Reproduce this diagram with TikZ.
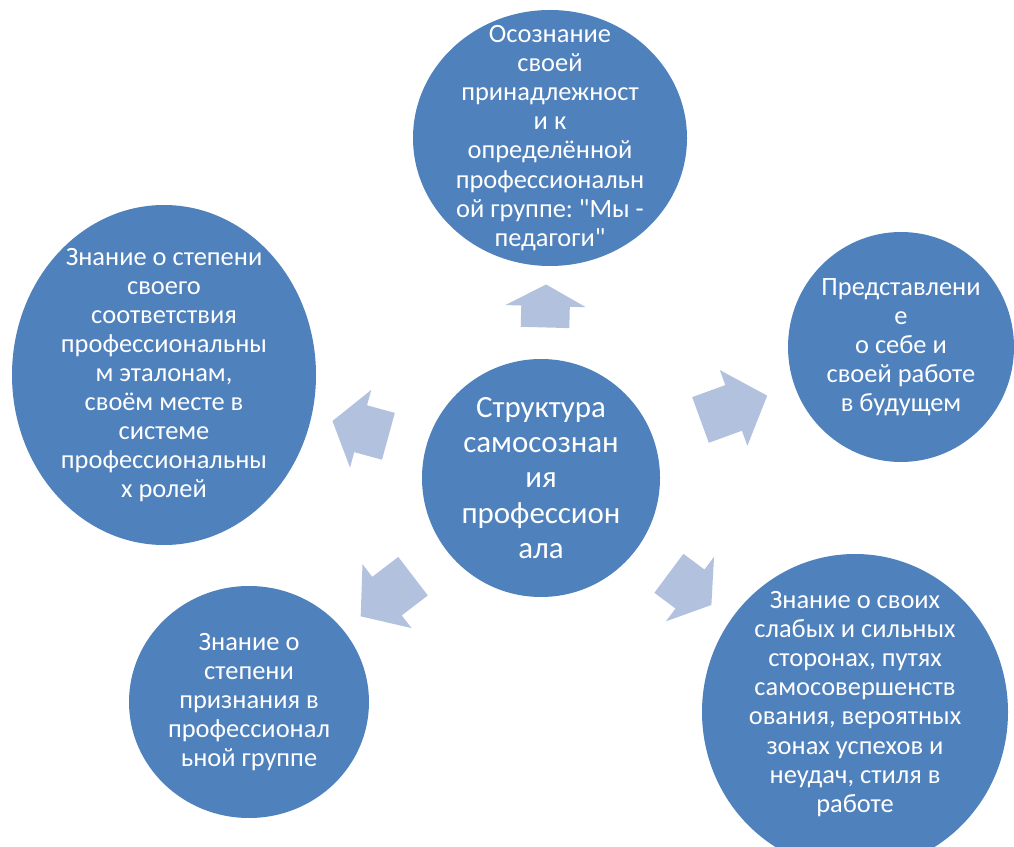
\documentclass[tikz,border=0pt]{standalone}
\usepackage{fontspec}
\setmainfont{Carlito}[Ligatures=TeXOff]
\usetikzlibrary{shapes.geometric,shapes.arrows}
\definecolor{bubbleblue}{RGB}{79,129,189}
\definecolor{arrowblue}{RGB}{178,194,222}
\frenchspacing

\begin{document}
\begin{tikzpicture}[
    bubble/.style={ellipse, fill=bubbleblue, inner sep=0pt},
    btext/.style={text=white, align=center, font=\fontsize{18.8}{20.7}\selectfont},
    blockarrow/.style args={#1/#2}{single arrow, fill=arrowblue,
        inner xsep=0pt, inner ysep=0.6cm, single arrow head extend=0.4cm,
        minimum height=#1, single arrow tip angle=#2, sloped, allow upside down}
  ]
  \clip (0,0) rectangle (25.35,21.15);

  % centre and the five parts round it
  \node[bubble, minimum width=5.95cm, minimum height=5.95cm,
        label={[btext, font=\fontsize{22}{25}\selectfont]center:{Структура\\самосознан\\ия\\профессион\\ала}}] (core) at (13.525,9.2) {};
  \node[bubble, minimum width=6.85cm, minimum height=6.4cm,
        label={[btext]center:{Осознание\\своей\\принадлежност\\и к\\определённой\\профессиональн\\ой группе: "Мы -\\педагоги"}}] (belong) at (13.75,17.7) {};
  \node[bubble, minimum width=5.65cm, minimum height=5.75cm,
        label={[btext]center:{Представлени\\е\\ о себе и\\своей работе\\в будущем}}] (future) at (22.525,12.475) {};
  \node[bubble, minimum width=7.65cm, minimum height=7.9cm,
        label={[btext, yshift=0.2cm]center:{Знание о своих\\слабых и сильных\\сторонах, путях\\самосовершенств\\ования, вероятных\\зонах успехов и\\неудач, стиля в\\работе}}] (strengths) at (21.375,3.35) {};
  \node[bubble, minimum width=6cm, minimum height=5.8cm,
        label={[btext]center:{Знание о\\степени\\признания в\\профессионал\\ьной группе}}] (recog) at (6.225,3.6) {};
  \node[bubble, minimum width=7.6cm, minimum height=8.5cm,
        label={[btext]center:{Знание о степени\\своего\\соответствия\\профессиональны\\м эталонам,\\своём месте в\\системе\\профессиональны\\х ролей}}] (roles) at (4.1,11.775) {};

  \path (core) -- node[blockarrow=1.075cm/123.4] {} (belong);
  \path (core) -- node[blockarrow=1.775cm/96.8] {} (future);
  \path (core) -- node[blockarrow=1.325cm/113] {} (strengths);
  \path (core) -- node[blockarrow=1.65cm/101] {} (recog);
  \path (core) -- node[blockarrow=1.45cm/108.1] {} (roles);

\end{tikzpicture}
\end{document}
